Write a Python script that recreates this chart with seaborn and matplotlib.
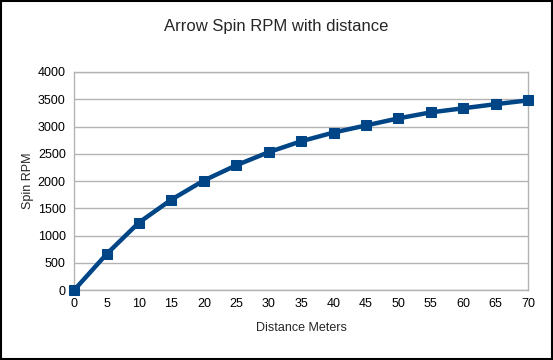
import matplotlib
matplotlib.use("Agg")
import matplotlib.pyplot as plt
import seaborn as sns
import pandas as pd

distance = [0, 5, 10, 15, 20, 25, 30, 35, 40, 45, 50, 55, 60, 65, 70]
spin_rpm = [0, 660, 1240, 1660, 2010, 2290, 2530, 2730, 2890, 3020, 3150, 3260, 3335, 3410, 3480]
y_ticks = [0, 500, 1000, 1500, 2000, 2500, 3000, 3500, 4000]

df = pd.DataFrame({"Distance Meters": distance, "Spin RPM": spin_rpm})

sns.set_theme(style="white")
plt.rcParams["font.family"] = ["Liberation Sans", "DejaVu Sans"]

fig = plt.figure(figsize=(5.53, 3.6), dpi=100)
ax = fig.add_axes([0.134, 0.194, 0.821, 0.606])

sns.lineplot(data=df, x="Distance Meters", y="Spin RPM", ax=ax, color="#004586",
             linewidth=3.2, marker="s", markersize=7.5, markeredgecolor="#004586",
             clip_on=False, zorder=5)

ax.set_xlim(0, 70)
ax.set_ylim(0, 4000)
ax.set_xticks(distance)
ax.set_yticks(y_ticks)
ax.tick_params(axis="both", labelsize=9, colors="#000000", length=0, pad=6)
ax.yaxis.grid(True, color="#b3b3b3", linewidth=1)
for s in ax.spines.values():
    s.set_color("#b3b3b3")
    s.set_linewidth(1)
ax.set_xlabel("Distance Meters", fontsize=9, labelpad=8)
ax.set_ylabel("Spin RPM", fontsize=9, labelpad=3)

fig.text(0.5, 0.925, "Arrow Spin RPM with distance", ha="center", va="center", fontsize=12)

# outer frame
fig.patches.append(plt.Rectangle((0.002, 0.003), 0.996, 0.994, transform=fig.transFigure,
                                 fill=False, edgecolor="black", linewidth=1.5))

fig.savefig("out.png", dpi=100)
